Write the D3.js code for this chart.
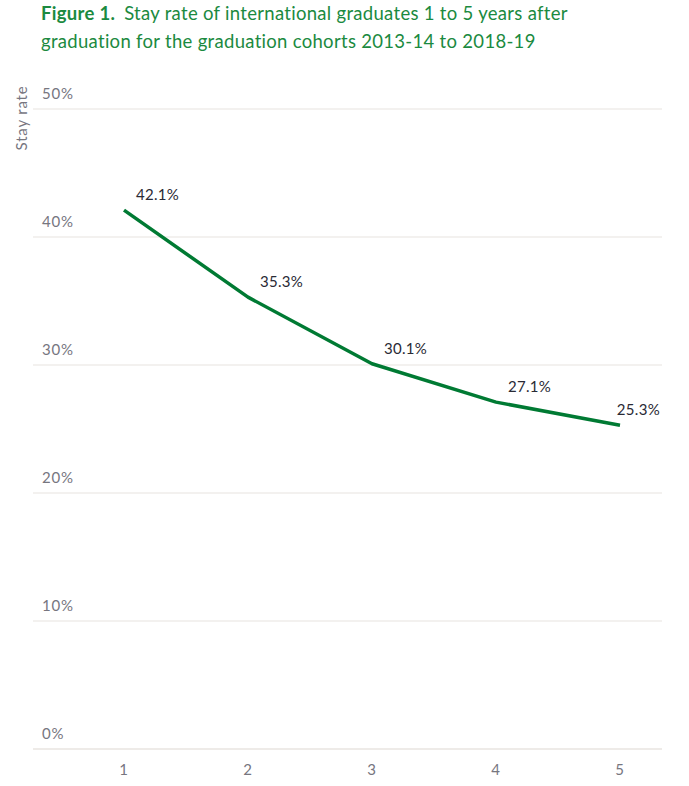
<!DOCTYPE html>
<html lang="en">
<head>
    <meta charset="UTF-8">
    <title>Stay rate of international graduates</title>
    <script src="https://d3js.org/d3.v7.min.js"></script>
    <style>
        body { margin: 0; background: #fff; font-family: Lato, "Noto Sans", sans-serif; }
        .title { fill: #1b8a3f; font-size: 18.5px; letter-spacing: 0.3px; }
        .tick-label { fill: #77767f; font-size: 15px; letter-spacing: 0.8px; }
        .value-label { fill: #2a2a35; font-size: 15px; letter-spacing: 0.3px; }
    </style>
</head>
<body>
    <div id="chart"></div>
    <script>
        // years after graduation and the stay rate for each
        const years = [1, 2, 3, 4, 5];
        const stayRate = [42.1, 35.3, 30.1, 27.1, 25.3];
        const yTicks = [0, 10, 20, 30, 40, 50];
        const titleLines = [
            ["Figure 1.", "Stay rate of international graduates 1 to 5 years after"],
            ["", "graduation for the graduation cohorts 2013-14 to 2018-19"]
        ];
        const yLabel = "Stay rate";

        const W = 689, H = 786;
        const plot = { left: 33, right: 662, top: 109, bottom: 749 };

        const svg = d3.select("#chart").append("svg")
            .attr("width", W)
            .attr("height", H);

        // title
        titleLines.forEach((line, i) => {
            const t = svg.append("text")
                .attr("class", "title")
                .attr("x", 41)
                .attr("y", 20 + i * 28);
            if (line[0]) {
                t.append("tspan").attr("font-weight", "bold").text(line[0]);
                t.append("tspan").attr("dx", 9).text(line[1]);
            } else {
                t.append("tspan").text(line[1]);
            }
        });

        const x = d3.scaleLinear().domain([1, 5]).range([124, 620]);
        const y = d3.scaleLinear().domain([0, 50]).range([plot.bottom, plot.top]);

        // gridlines + y tick labels
        const grid = svg.append("g");
        grid.selectAll("line")
            .data(yTicks)
            .join("line")
            .attr("x1", plot.left).attr("x2", plot.right)
            .attr("y1", d => y(d)).attr("y2", d => y(d))
            .attr("stroke", "#e8e4e0")
            .attr("stroke-width", d => d === 0 ? 1.6 : 1.2);
        grid.selectAll("text")
            .data(yTicks)
            .join("text")
            .attr("class", "tick-label")
            .attr("x", 42)
            .attr("y", d => y(d) - 10)
            .text(d => d + "%");

        // x tick labels
        svg.append("g").selectAll("text")
            .data(years)
            .join("text")
            .attr("class", "tick-label")
            .attr("text-anchor", "middle")
            .attr("x", d => x(d))
            .attr("y", plot.bottom + 26)
            .text(d => d);

        // y axis title
        svg.append("text")
            .attr("class", "tick-label")
            .attr("transform", `translate(27, 118) rotate(-90)`)
            .attr("text-anchor", "middle")
            .text(yLabel);

        const pts = years.map((d, i) => ({ year: d, value: stayRate[i] }));

        svg.append("path")
            .datum(pts)
            .attr("fill", "none")
            .attr("stroke", "#007a33")
            .attr("stroke-width", 3.5)
            .attr("stroke-linejoin", "round")
            .attr("d", d3.line().x(d => x(d.year)).y(d => y(d.value)));

        // value labels, kept inside the plot on the right
        svg.append("g").selectAll("text")
            .data(pts)
            .join("text")
            .attr("class", "value-label")
            .attr("y", d => y(d.value) - 10)
            .text(d => d.value.toFixed(1) + "%")
            .attr("x", function (d) {
                const w = this.getComputedTextLength();
                return Math.min(x(d.year) + 12, plot.right - 2 - w);
            });
    </script>
</body>
</html>
